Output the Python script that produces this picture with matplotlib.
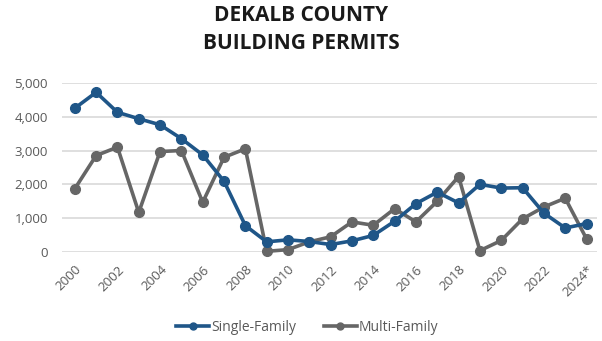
# DeKalb County building permits, single- vs multi-family, 2000-2024

import matplotlib.pyplot as plt
from matplotlib.lines import Line2D

years = [str(y) for y in range(2000, 2024)] + ["2024*"]
single_family = [4250, 4720, 4130, 3940, 3760, 3350, 2870, 2090, 780, 300,
                 360, 310, 220, 330, 490, 910, 1430, 1770, 1450, 2000,
                 1890, 1900, 1150, 710, 840]
multi_family = [1870, 2850, 3100, 1170, 2970, 3000, 1470, 2800, 3050, 20,
                70, 300, 450, 890, 790, 1280, 890, 1500, 2230, 40,
                340, 980, 1330, 1590, 390]

blue = "#1f5688"
grey = "#666666"
text_grey = "#595959"

plt.rcParams['font.family'] = ['Open Sans', 'DejaVu Sans']

fig = plt.figure(figsize=(6.02, 3.41), dpi=100)
ax = fig.add_axes([0.103, 0.261, 0.889, 0.496])

x = list(range(len(years)))
ax.plot(x, single_family, color=blue, lw=2.6, marker="o", ms=7,
        zorder=3, clip_on=False)
ax.plot(x, multi_family, color=grey, lw=2.6, marker="o", ms=7,
        zorder=2, clip_on=False)

ax.set_ylim(0, 5000)
ax.set_xlim(-0.6, 24.5)
ax.set_yticks(range(0, 5001, 1000))
ax.set_yticklabels([f"{v:,}" for v in range(0, 5001, 1000)])
ax.set_xticks(x[::2])
ax.set_xticklabels(years[::2], rotation=45, ha="right", rotation_mode="anchor")
ax.tick_params(length=0, colors=text_grey, labelsize=9.5)
ax.tick_params(axis="y", pad=10)
ax.tick_params(axis="x", pad=8)
ax.grid(axis="y", color="#d9d9d9", lw=1.2)
ax.set_axisbelow(True)
for s in ax.spines.values():
    s.set_visible(False)

fig.text(0.5, 0.985, "DEKALB COUNTY\nBUILDING PERMITS", ha="center", va="top",
         fontsize=15, fontweight="bold", color="#1a1a1a", linespacing=1.4)

handles = [Line2D([], [], color=blue, lw=2.6, marker="o", ms=5),
           Line2D([], [], color=grey, lw=2.6, marker="o", ms=5)]
fig.legend(handles, ["Single-Family", "Multi-Family"], loc="lower center",
           bbox_to_anchor=(0.51, -0.02), ncol=2, frameon=False,
           fontsize=10, labelcolor=text_grey, handlelength=2.4,
           columnspacing=2.0, handletextpad=0.1)

plt.savefig("out.png")
